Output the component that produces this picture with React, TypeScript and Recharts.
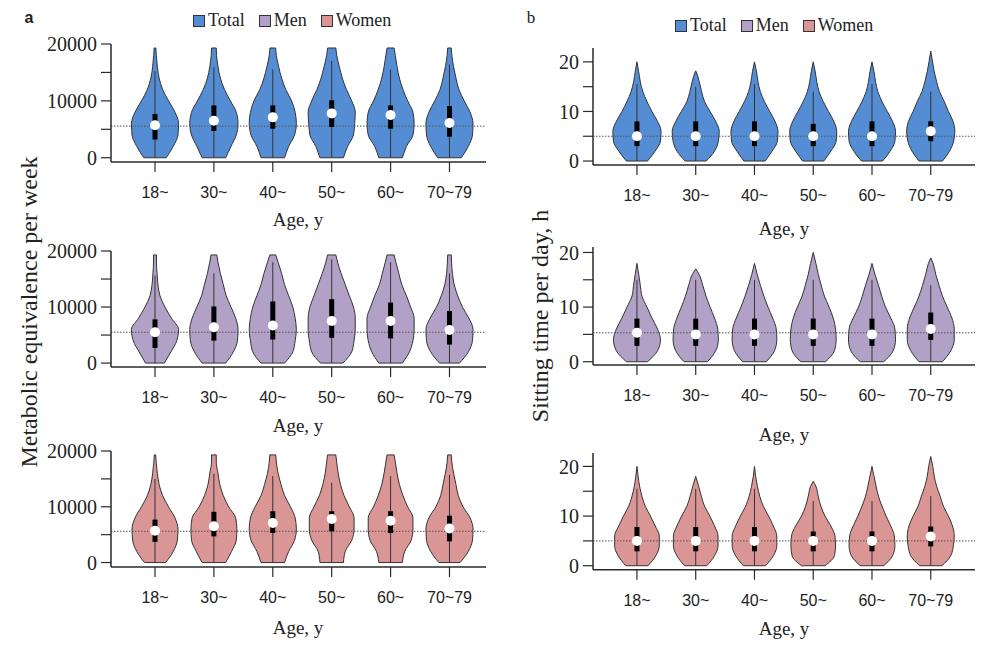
import React from 'react';
import { ComposedChart, Area, XAxis, YAxis, ReferenceLine, ReferenceDot } from 'recharts';

const AGE_GROUPS = ['18~', '30~', '40~', '50~', '60~', '70~79'];
const GROUP_POS = [1, 2, 3, 4, 5, 6];

// ---------- Panel a: metabolic equivalence per week ----------
const MET_LEVELS = [0, 2000, 4000, 6000, 8000, 10000, 12000, 14000, 16000, 18000, 19300];
const MET_TICKS = [0, 5000, 10000, 15000, 20000];

const MET_TOTAL_WIDTHS = [
  [0.19, 0.31, 0.39, 0.40, 0.34, 0.23, 0.13, 0.07, 0.04, 0.022, 0.015],
  [0.20, 0.29, 0.38, 0.41, 0.38, 0.28, 0.18, 0.11, 0.07, 0.045, 0.04],
  [0.20, 0.27, 0.37, 0.40, 0.38, 0.32, 0.22, 0.15, 0.10, 0.06, 0.048],
  [0.20, 0.27, 0.37, 0.39, 0.40, 0.34, 0.25, 0.18, 0.13, 0.085, 0.07],
  [0.20, 0.27, 0.38, 0.40, 0.38, 0.29, 0.21, 0.15, 0.11, 0.08, 0.06],
  [0.20, 0.32, 0.39, 0.40, 0.35, 0.25, 0.16, 0.11, 0.07, 0.04, 0.03],
];
const MET_TOTAL_Q1 = [3200, 4700, 5100, 5400, 5100, 3700];
const MET_TOTAL_Q3 = [7700, 9200, 9200, 10100, 9200, 9100];
const MET_TOTAL_MEDIAN = [5700, 6500, 7100, 7800, 7500, 6100];
const MET_TOTAL_WHISKER = [15200, 15900, 15500, 17000, 15500, 16400];
const MET_TOTAL_REF = 5560;

const MET_MEN_WIDTHS = [
  [0.16, 0.27, 0.37, 0.40, 0.28, 0.17, 0.085, 0.05, 0.035, 0.025, 0.025],
  [0.20, 0.33, 0.40, 0.41, 0.37, 0.29, 0.21, 0.16, 0.11, 0.07, 0.05],
  [0.20, 0.34, 0.38, 0.40, 0.38, 0.34, 0.27, 0.20, 0.15, 0.09, 0.05],
  [0.19, 0.34, 0.38, 0.40, 0.40, 0.37, 0.30, 0.23, 0.16, 0.10, 0.07],
  [0.20, 0.32, 0.38, 0.40, 0.40, 0.34, 0.27, 0.19, 0.14, 0.09, 0.06],
  [0.17, 0.32, 0.39, 0.40, 0.33, 0.22, 0.14, 0.08, 0.05, 0.035, 0.03],
];
const MET_MEN_Q1 = [2700, 4000, 4200, 4500, 4400, 3300];
const MET_MEN_Q3 = [7800, 10100, 11000, 11400, 10800, 9300];
const MET_MEN_MEDIAN = [5500, 6400, 6700, 7500, 7500, 5900];
const MET_MEN_WHISKER = [15600, 16000, 18000, 18500, 18000, 16000];
const MET_MEN_REF = 5500;

const MET_WOMEN_WIDTHS = [
  [0.18, 0.31, 0.38, 0.39, 0.34, 0.23, 0.13, 0.07, 0.04, 0.02, 0.012],
  [0.20, 0.30, 0.38, 0.39, 0.37, 0.25, 0.16, 0.10, 0.07, 0.04, 0.04],
  [0.20, 0.27, 0.37, 0.40, 0.38, 0.30, 0.20, 0.14, 0.09, 0.06, 0.05],
  [0.20, 0.23, 0.34, 0.38, 0.38, 0.30, 0.21, 0.15, 0.11, 0.085, 0.07],
  [0.20, 0.24, 0.35, 0.38, 0.38, 0.29, 0.21, 0.15, 0.11, 0.08, 0.06],
  [0.18, 0.32, 0.39, 0.40, 0.35, 0.23, 0.15, 0.11, 0.07, 0.04, 0.03],
];
const MET_WOMEN_Q1 = [3700, 4700, 5300, 5600, 5300, 3800];
const MET_WOMEN_Q3 = [7700, 9100, 9200, 9200, 9200, 8400];
const MET_WOMEN_MEDIAN = [5700, 6500, 7100, 7800, 7500, 6100];
const MET_WOMEN_WHISKER = [15000, 15900, 15500, 14300, 15500, 15700];
const MET_WOMEN_REF = 5600;

// ---------- Panel b: sitting time per day ----------
const SIT_LEVELS = [0, 2, 4, 6, 8, 10, 12, 14, 16, 18, 20, 22];
const SIT_TICKS = [0, 5, 10, 15, 20];

const SIT_TOTAL_TOP = [20, 18.2, 20, 20, 20, 22.2];
const SIT_TOTAL_WIDTHS = [
  [0.18, 0.31, 0.40, 0.41, 0.35, 0.255, 0.17, 0.10, 0.057, 0.03],
  [0.18, 0.32, 0.385, 0.40, 0.34, 0.245, 0.15, 0.10, 0.06, 0.008],
  [0.18, 0.30, 0.39, 0.40, 0.35, 0.26, 0.17, 0.10, 0.06, 0.035],
  [0.18, 0.30, 0.39, 0.40, 0.35, 0.26, 0.17, 0.10, 0.06, 0.035],
  [0.18, 0.31, 0.39, 0.40, 0.35, 0.26, 0.17, 0.10, 0.06, 0.035],
  [0.20, 0.32, 0.39, 0.41, 0.38, 0.30, 0.23, 0.15, 0.10, 0.06, 0.03],
];
const SIT_TOTAL_Q1 = [3, 3, 3, 3, 3, 4];
const SIT_TOTAL_Q3 = [8, 8, 8, 7.5, 8, 8];
const SIT_TOTAL_MEDIAN = [5, 5, 5, 5, 5, 6];
const SIT_TOTAL_WHISKER = [15.5, 15, 15.5, 14, 15.5, 14];
const SIT_TOTAL_REF = 5;

const SIT_MEN_TOP = [18, 17, 18, 20, 18, 19];
const SIT_MEN_WIDTHS = [
  [0.18, 0.35, 0.40, 0.35, 0.255, 0.17, 0.085, 0.057, 0.03],
  [0.20, 0.34, 0.385, 0.375, 0.32, 0.245, 0.175, 0.12, 0.057],
  [0.20, 0.34, 0.38, 0.37, 0.31, 0.23, 0.16, 0.10, 0.045],
  [0.21, 0.36, 0.39, 0.38, 0.34, 0.27, 0.19, 0.135, 0.085, 0.045],
  [0.20, 0.36, 0.40, 0.39, 0.32, 0.23, 0.165, 0.11, 0.05],
  [0.20, 0.34, 0.40, 0.40, 0.36, 0.28, 0.20, 0.14, 0.085, 0.04],
];
const SIT_MEN_Q1 = [2.9, 2.9, 2.9, 2.9, 2.9, 4];
const SIT_MEN_Q3 = [7.9, 7.9, 7.9, 7.9, 7.9, 9];
const SIT_MEN_MEDIAN = [5.3, 5, 5, 5, 5, 6];
const SIT_MEN_WHISKER = [15, 15, 15, 15, 15, 14];
const SIT_MEN_REF = 5.3;

const SIT_WOMEN_TOP = [20, 18, 20, 17, 20, 22];
const SIT_WOMEN_WIDTHS = [
  [0.19, 0.32, 0.38, 0.38, 0.31, 0.23, 0.14, 0.085, 0.045, 0.02],
  [0.19, 0.32, 0.38, 0.38, 0.32, 0.24, 0.15, 0.095, 0.05],
  [0.19, 0.32, 0.38, 0.38, 0.32, 0.24, 0.15, 0.09, 0.05, 0.02],
  [0.20, 0.36, 0.38, 0.37, 0.30, 0.20, 0.13, 0.085, 0.045],
  [0.20, 0.35, 0.39, 0.38, 0.32, 0.24, 0.17, 0.11, 0.07, 0.035],
  [0.19, 0.34, 0.385, 0.40, 0.37, 0.30, 0.215, 0.16, 0.10, 0.06, 0.035],
];
const SIT_WOMEN_Q1 = [2.9, 2.9, 2.9, 2.9, 2.9, 3.9];
const SIT_WOMEN_Q3 = [7.8, 7.8, 7.8, 6.9, 6.9, 7.9];
const SIT_WOMEN_MEDIAN = [5, 5, 5, 5, 5, 5.9];
const SIT_WOMEN_WHISKER = [15.5, 15.5, 15.5, 13, 13, 14];
const SIT_WOMEN_REF = 5;

const LEGEND_ITEMS = ['Total', 'Men', 'Women'];
const COLORS = ['#548DD4', '#B2A1C7', '#D99694'];

const SERIF = '"Liberation Serif", "Times New Roman", serif';
const SANS = '"Liberation Sans", Arial, sans-serif';
const INK = '#2a2a2a';

function buildRows(levels: number[], widths: number[][], tops?: number[]) {
  const rows: any[] = [];
  widths.forEach((w, k) => {
    const c = GROUP_POS[k];
    const pts = w.map((hw, i) => ({ y: levels[i], hw }));
    if (tops) pts.push({ y: tops[k], hw: 0 });
    pts.forEach((p) => {
      const row: any = { y: p.y };
      GROUP_POS.forEach((_, j) => {
        row['v' + j] = j === k ? [c - p.hw, c + p.hw] : [null, null];
      });
      rows.push(row);
    });
  });
  return rows;
}

type PanelProps = {
  plotLeft: number; plotTop: number; plotW: number; plotH: number;
  xDomain: [number, number]; yDomain: [number, number]; yTicks: number[]; labelStep: number;
  levels: number[]; widths: number[][]; tops?: number[];
  q1: number[]; q3: number[]; median: number[]; whisker: number[]; refValue: number;
  color: string; capTop?: boolean;
};

function ViolinPanel(p: PanelProps) {
  const ML = 70, MT = 10, MR = 8, XH = 60;
  const rows = buildRows(p.levels, p.widths, p.tops);
  const topLevel = p.levels[p.levels.length - 1];
  return (
    <div style={{ position: 'absolute', left: p.plotLeft - ML, top: p.plotTop - MT }}>
      <ComposedChart
        layout="vertical"
        width={ML + p.plotW + MR}
        height={MT + p.plotH + XH}
        data={rows}
        margin={{ top: MT, right: MR, left: 0, bottom: 0 }}
      >
        <XAxis
          type="number"
          domain={p.xDomain}
          allowDataOverflow
          ticks={GROUP_POS}
          interval={0}
          tickFormatter={(v: number) => AGE_GROUPS[Math.round(v) - 1] ?? ''}
          height={XH}
          tickSize={10}
          tickMargin={15}
          axisLine={{ stroke: INK, strokeWidth: 1.5 }}
          tickLine={{ stroke: INK, strokeWidth: 1.2 }}
          tick={{ fontFamily: SANS, fontSize: 16, fill: '#222' }}
        />
        <YAxis
          type="number"
          dataKey="y"
          reversed
          domain={p.yDomain}
          allowDataOverflow
          ticks={p.yTicks}
          interval={0}
          tickFormatter={(v: number) => (v % p.labelStep === 0 ? String(v) : '')}
          width={ML}
          tickSize={10}
          tickMargin={4}
          axisLine={{ stroke: INK, strokeWidth: 1.5 }}
          tickLine={{ stroke: INK, strokeWidth: 1.2 }}
          tick={{ fontFamily: SERIF, fontSize: 20, fill: '#222' }}
        />
        {GROUP_POS.map((_, k) => (
          <Area
            key={'v' + k}
            dataKey={'v' + k}
            type="monotone"
            fill={p.color}
            fillOpacity={1}
            stroke="#333"
            strokeWidth={1}
            dot={false}
            activeDot={false}
            connectNulls={false}
            isAnimationActive={false}
          />
        ))}
        {GROUP_POS.map((c, k) => (
          <ReferenceLine
            key={'bottom' + k}
            segment={[{ x: c - p.widths[k][0], y: 0 }, { x: c + p.widths[k][0], y: 0 }]}
            stroke="#333"
            strokeWidth={1}
          />
        ))}
        {p.capTop && GROUP_POS.map((c, k) => {
          const w = p.widths[k][p.widths[k].length - 1];
          return (
            <ReferenceLine
              key={'cap' + k}
              segment={[{ x: c - w, y: topLevel }, { x: c + w, y: topLevel }]}
              stroke="#333"
              strokeWidth={1}
            />
          );
        })}
        <ReferenceLine y={p.refValue} stroke="#555" strokeWidth={1} strokeDasharray="1.5 1.5" />
        {GROUP_POS.map((c, k) => (
          <ReferenceLine
            key={'wh' + k}
            segment={[{ x: c, y: 0 }, { x: c, y: p.whisker[k] }]}
            stroke="#333"
            strokeWidth={1}
          />
        ))}
        {GROUP_POS.map((c, k) => (
          <ReferenceLine
            key={'box' + k}
            segment={[{ x: c, y: p.q1[k] }, { x: c, y: p.q3[k] }]}
            stroke="#000"
            strokeWidth={5}
          />
        ))}
        {GROUP_POS.map((c, k) => (
          <ReferenceDot key={'med' + k} x={c} y={p.median[k]} r={5} fill="#fff" stroke="none" />
        ))}
      </ComposedChart>
    </div>
  );
}

function Legend({ left, top }: { left: number; top: number }) {
  return (
    <div style={{ position: 'absolute', left, top, display: 'flex', alignItems: 'center', fontFamily: SERIF, fontSize: 18, color: '#222', whiteSpace: 'nowrap' }}>
      {LEGEND_ITEMS.map((name, i) => (
        <div key={name} style={{ display: 'flex', alignItems: 'center', marginRight: i < LEGEND_ITEMS.length - 1 ? 14 : 0 }}>
          <div style={{ width: 10, height: 10, background: COLORS[i], border: '1px solid #333', marginRight: 3 }} />
          <span>{name}</span>
        </div>
      ))}
    </div>
  );
}

function Text({ x, y, children, size = 19, font = SERIF, rotate = false, weight = 400 }: any) {
  return (
    <div
      style={{
        position: 'absolute', left: x, top: y, fontFamily: font, fontSize: size, fontWeight: weight, color: '#222',
        whiteSpace: 'nowrap', transform: `translate(-50%, -50%)${rotate ? ' rotate(-90deg)' : ''}`, lineHeight: 1,
      }}
    >
      {children}
    </div>
  );
}

export default function App() {
  const aX: [number, number] = [0.253, 6.62];
  const bX: [number, number] = [0.252, 6.753];
  return (
    <div style={{ position: 'absolute', left: 0, top: 0, width: 981, height: 646, background: '#fff', overflow: 'hidden' }}>
      <Text x={29} y={18} font={SANS} size={16} weight={700}>a</Text>
      <Text x={531} y={17} size={17}>b</Text>
      <Legend left={193} top={10} />
      <Legend left={675} top={15} />

      <ViolinPanel plotLeft={111} plotTop={44.3} plotW={375} plotH={118} xDomain={aX} yDomain={[-750, 20000]}
        yTicks={MET_TICKS} labelStep={10000} levels={MET_LEVELS} widths={MET_TOTAL_WIDTHS}
        q1={MET_TOTAL_Q1} q3={MET_TOTAL_Q3} median={MET_TOTAL_MEDIAN} whisker={MET_TOTAL_WHISKER} refValue={MET_TOTAL_REF}
        color={COLORS[0]} capTop />
      <ViolinPanel plotLeft={111} plotTop={251} plotW={375} plotH={116} xDomain={aX} yDomain={[-700, 20000]}
        yTicks={MET_TICKS} labelStep={10000} levels={MET_LEVELS} widths={MET_MEN_WIDTHS}
        q1={MET_MEN_Q1} q3={MET_MEN_Q3} median={MET_MEN_MEDIAN} whisker={MET_MEN_WHISKER} refValue={MET_MEN_REF}
        color={COLORS[1]} capTop />
      <ViolinPanel plotLeft={111} plotTop={451} plotW={375} plotH={116} xDomain={aX} yDomain={[-800, 20000]}
        yTicks={MET_TICKS} labelStep={10000} levels={MET_LEVELS} widths={MET_WOMEN_WIDTHS}
        q1={MET_WOMEN_Q1} q3={MET_WOMEN_Q3} median={MET_WOMEN_MEDIAN} whisker={MET_WOMEN_WHISKER} refValue={MET_WOMEN_REF}
        color={COLORS[2]} capTop />

      <ViolinPanel plotLeft={593} plotTop={47.7} plotW={382} plotH={117} xDomain={bX} yDomain={[-0.8, 22.8]}
        yTicks={SIT_TICKS} labelStep={10} levels={SIT_LEVELS} widths={SIT_TOTAL_WIDTHS} tops={SIT_TOTAL_TOP}
        q1={SIT_TOTAL_Q1} q3={SIT_TOTAL_Q3} median={SIT_TOTAL_MEDIAN} whisker={SIT_TOTAL_WHISKER} refValue={SIT_TOTAL_REF}
        color={COLORS[0]} />
      <ViolinPanel plotLeft={593} plotTop={246.5} plotW={382} plotH={118} xDomain={bX} yDomain={[-0.6, 21]}
        yTicks={SIT_TICKS} labelStep={10} levels={SIT_LEVELS} widths={SIT_MEN_WIDTHS} tops={SIT_MEN_TOP}
        q1={SIT_MEN_Q1} q3={SIT_MEN_Q3} median={SIT_MEN_MEDIAN} whisker={SIT_MEN_WHISKER} refValue={SIT_MEN_REF}
        color={COLORS[1]} />
      <ViolinPanel plotLeft={593} plotTop={453.3} plotW={382} plotH={116.7} xDomain={bX} yDomain={[-0.8, 22.7]}
        yTicks={SIT_TICKS} labelStep={10} levels={SIT_LEVELS} widths={SIT_WOMEN_WIDTHS} tops={SIT_WOMEN_TOP}
        q1={SIT_WOMEN_Q1} q3={SIT_WOMEN_Q3} median={SIT_WOMEN_MEDIAN} whisker={SIT_WOMEN_WHISKER} refValue={SIT_WOMEN_REF}
        color={COLORS[2]} />

      <Text x={298} y={219}>Age, y</Text>
      <Text x={298} y={425}>Age, y</Text>
      <Text x={298} y={627}>Age, y</Text>
      <Text x={784} y={228}>Age, y</Text>
      <Text x={784} y={434}>Age, y</Text>
      <Text x={784} y={628}>Age, y</Text>

      <Text x={29} y={312} size={24} rotate>Metabolic equivalence per week</Text>
      <Text x={540} y={316} size={24} rotate>Sitting time per day, h</Text>
    </div>
  );
}
